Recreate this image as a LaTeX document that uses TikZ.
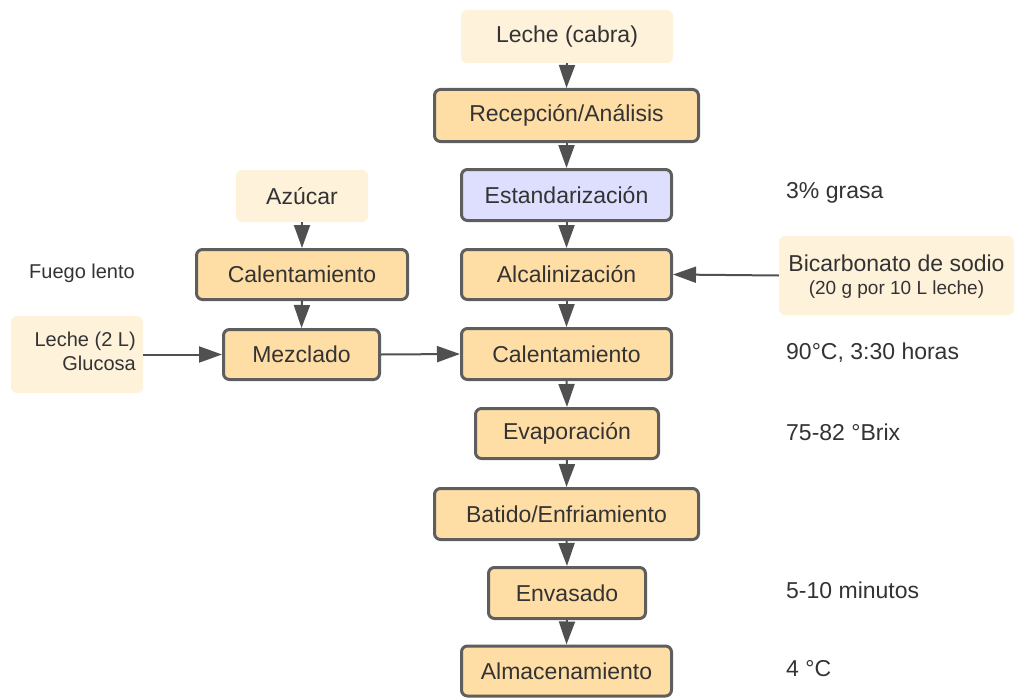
\documentclass[tikz,border=0pt]{standalone}
\usepackage{fontspec}
\setmainfont{Liberation Sans}
\usetikzlibrary{arrows.meta}
\definecolor{stepfill}{HTML}{FFDEA6}
\definecolor{inputfill}{HTML}{FFF2DB}
\definecolor{stdfill}{HTML}{DEDFFF}
\definecolor{edge}{HTML}{5E5E5E}
\definecolor{ink}{HTML}{333333}
\definecolor{flow}{HTML}{505050}
\tikzset{
  stepbox/.style={draw=edge, line width=3pt, rounded corners=6pt, fill=stepfill,
    text=ink, font=\fontsize{23}{27}\selectfont, inner sep=0pt, align=center},
  inputbox/.style={fill=inputfill, rounded corners=6pt, text=ink,
    font=\fontsize{23}{27}\selectfont, inner sep=0pt, align=center},
  note/.style={text=ink, font=\fontsize{23}{27}\selectfont, inner sep=0pt, anchor=west},
  smallnote/.style={text=ink, font=\fontsize{20}{25}\selectfont, inner sep=0pt},
  flowarrow/.style={draw=flow, line width=2pt, -{Triangle[width=16pt,length=23pt]}},
}
\begin{document}
\begin{tikzpicture}[x=1pt,y=-1pt]
\useasboundingbox (0,0) rectangle (1014,698);

% main column
\node[inputbox, minimum width=212pt, minimum height=53pt] (lc) at (567,36.5) {Leche (cabra)};
\node[stepbox, minimum width=264pt, minimum height=52pt] (rec) at (566.5,115.5) {Recepción/Análisis};
\node[stepbox, fill=stdfill, minimum width=210pt, minimum height=51pt] (est) at (566.5,195) {Estandarización};
\node[stepbox, minimum width=210pt, minimum height=50pt] (alc) at (566.5,274.5) {Alcalinización};
\node[stepbox, minimum width=210pt, minimum height=51pt] (cal) at (566.5,354) {Calentamiento};
\node[stepbox, minimum width=183pt, minimum height=50pt] (eva) at (567,433.5) {Evaporación};
\node[stepbox, minimum width=264pt, minimum height=51pt] (bat) at (566.5,514) {Batido/Enfriamiento};
\node[stepbox, minimum width=157pt, minimum height=51pt] (env) at (567,593) {Envasado};
\node[stepbox, minimum width=210pt, minimum height=50pt] (alm) at (566.5,671) {Almacenamiento};

% side branch
\node[inputbox, minimum width=132pt, minimum height=52pt] (azu) at (302,196) {Azúcar};
\node[stepbox, minimum width=211pt, minimum height=50pt] (calL) at (302,274.5) {Calentamiento};
\node[stepbox, minimum width=156pt, minimum height=50pt] (mez) at (301.5,354.5) {Mezclado};
\node[inputbox, minimum width=132pt, minimum height=77pt] (lg) at (77,354.5) {};
\node[smallnote, anchor=east] (lgt) at (136,353) {\begin{tabular}{@{}r@{}}Leche (2 L)\\[-1pt]Glucosa\end{tabular}};
\node[inputbox, minimum width=235pt, minimum height=79pt] (bic) at (896.5,275.5) {};
\node[text=ink, inner sep=0pt, align=center, font=\fontsize{23}{27}\selectfont] (bict1) at (896.5,263) {Bicarbonato de sodio};
\node[smallnote, font=\fontsize{19}{23}\selectfont] (bict2) at (896.5,290) {(20 g por 10 L leche)};

% notes
\node[smallnote] (fuego) at (82,273) {Fuego lento};
\node[note] (n1) at (786,193) {3\% grasa};
\node[note] (n2) at (786,353) {90°C, 3:30 horas};
\node[note] (n3) at (786,432) {75-82 °Brix};
\node[note] (n4) at (786,590) {5-10 minutos};
\node[note] (n5) at (786,669) {4 °C};

% flow
\draw[flowarrow] (lc.south) -- (rec.north);
\draw[flowarrow] (rec.south) -- (est.north);
\draw[flowarrow] (est.south) -- (alc.north);
\draw[flowarrow] (alc.south) -- (cal.north);
\draw[flowarrow] (cal.south) -- (eva.north);
\draw[flowarrow] (eva.south) -- (bat.north);
\draw[flowarrow] (bat.south) -- (env.north);
\draw[flowarrow] (env.south) -- (alm.north);
\draw[flowarrow] (azu.south) -- (calL.north);
\draw[flowarrow] (calL.south) -- (mez.north);
\draw[flowarrow] (lg.east) -- (mez.west);
\draw[flowarrow] (mez.east) -- (cal.west);
\draw[flowarrow] (bic.west) -- (alc.east);
\end{tikzpicture}
\end{document}
